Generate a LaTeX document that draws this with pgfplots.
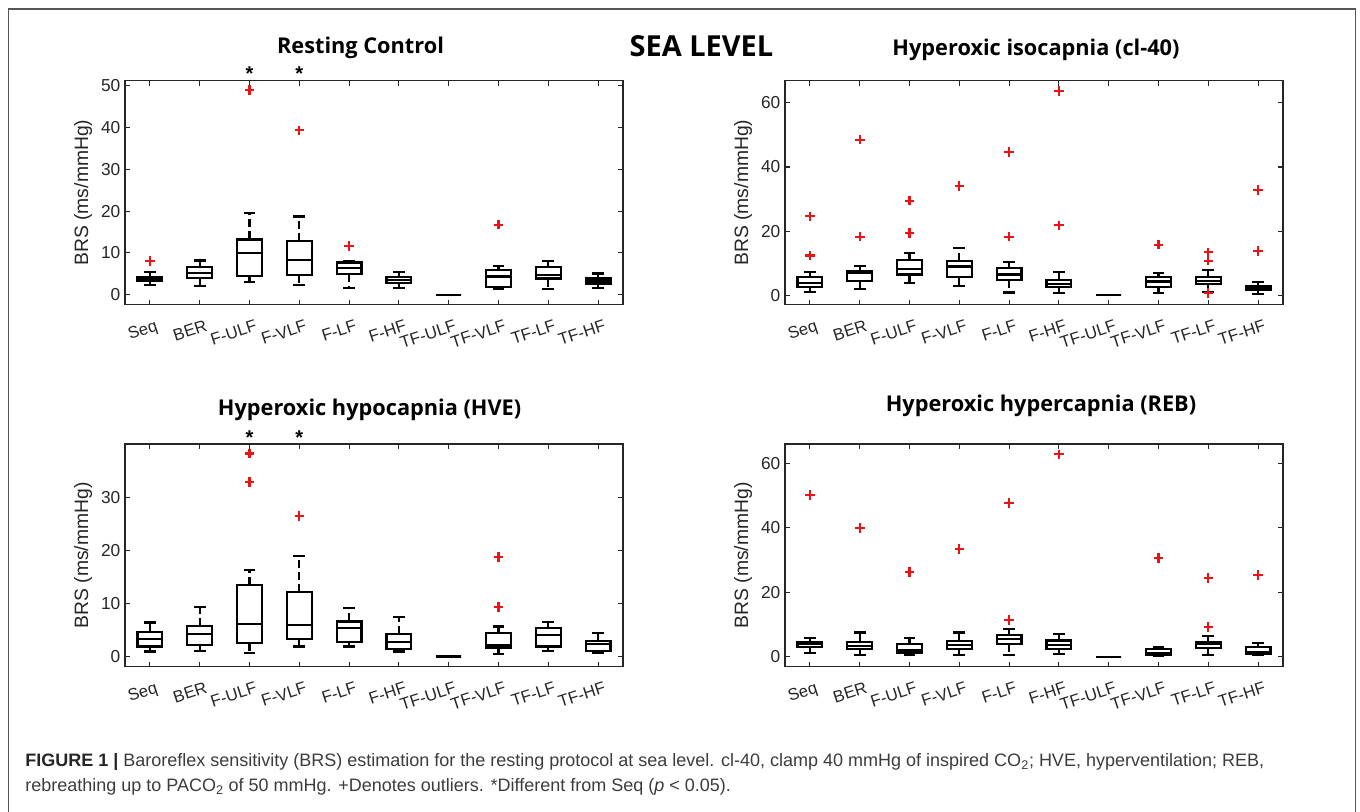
\documentclass[border=0pt]{standalone}
\usepackage{fontspec}
\setmainfont{Liberation Sans}
\newfontfamily\titlefont{Open Sans}
\usepackage{pgfplots}
\pgfplotsset{compat=1.18}
\usepgfplotslibrary{statistics}

\definecolor{axgray}{RGB}{38,38,38}
\definecolor{capgray}{RGB}{60,60,60}
\definecolor{framegray}{RGB}{85,85,85}
\definecolor{outred}{RGB}{235,20,20}

\pgfplotsset{
  brs/.style={
    scale only axis, width=373.5pt,
    xmin=0.5, xmax=10.5, xtick={1,...,10},
    xticklabels={Seq,BER,F-ULF,F-VLF,F-LF,F-HF,TF-ULF,TF-VLF,TF-LF,TF-HF},
    tick align=inside, major tick length=3.75pt,
    axis line style={line width=0.9pt, axgray},
    tick style={line width=0.8pt, axgray},
    /pgf/number format/assume math mode=true,
    ticklabel style={font=\fontsize{13}{15}\selectfont, text=axgray},
    xticklabel style={font=\fontsize{12.5}{15}\selectfont, xshift=3.75pt, yshift=-11pt, rotate=18, anchor=north east, inner sep=0pt},
    ylabel={BRS (ms/mmHg)},
    ylabel style={font=\fontsize{14.5}{17}\selectfont, text=axgray, at={(axis description cs:-0.0843,0.5)}, anchor=center},
    clip=false,
    boxplot/draw direction=y,
    boxplot/box extend=0.5,
    boxplot/whisker extend=0.235,
    boxplot/draw/lower whisker/.code={%
      \draw[dash pattern=on 6pt off 3pt] (boxplot box cs:\pgfplotsboxplotvalue{lower quartile},0.5) -- (boxplot box cs:\pgfplotsboxplotvalue{lower whisker},0.5);
      \draw[solid] (boxplot whisker cs:\pgfplotsboxplotvalue{lower whisker},0) -- (boxplot whisker cs:\pgfplotsboxplotvalue{lower whisker},1);
    },
    boxplot/draw/upper whisker/.code={%
      \draw[dash pattern=on 6pt off 3pt] (boxplot box cs:\pgfplotsboxplotvalue{upper quartile},0.5) -- (boxplot box cs:\pgfplotsboxplotvalue{upper whisker},0.5);
      \draw[solid] (boxplot whisker cs:\pgfplotsboxplotvalue{upper whisker},0) -- (boxplot whisker cs:\pgfplotsboxplotvalue{upper whisker},1);
    },
  },
  bxs/.style={black, line width=1.6pt, mark=+, mark size=3.6pt,
    mark options={outred, line width=1.6pt, solid}},
}

% box without outliers: pos, lw, lq, med, uq, uw
\newcommand{\bx}[6]{\addplot[bxs, boxplot prepared={draw position=#1, lower whisker=#2, lower quartile=#3, median=#4, upper quartile=#5, upper whisker=#6}] coordinates {};}
% box with outliers: last argument rows like 8.1\\ 12\\
\newcommand{\bxo}[7]{\addplot[bxs, boxplot prepared={draw position=#1, lower whisker=#2, lower quartile=#3, median=#4, upper quartile=#5, upper whisker=#6}] table[row sep=\\, y index=0] {data\\ #7};}

\begin{document}
\begin{tikzpicture}
\path[use as bounding box] (0,0) rectangle (1020pt,609pt);

% ---------- Resting Control ----------
\begin{axis}[brs, at={(93.75pt,380.5pt)}, anchor=south west, height=168pt,
  ymin=-2.4, ymax=51.2, ytick={0,10,20,30,40,50}]
\bxo{1}{2.2}{3.2}{3.7}{4.15}{5.35}{8.1\\}
\bx{2}{2.0}{4.0}{5.1}{6.7}{8.15}
\bxo{3}{3.1}{4.4}{9.9}{13.2}{19.5}{48.9\\}
\bxo{4}{2.3}{4.7}{8.3}{12.9}{18.7}{39.3\\}
\bxo{5}{1.5}{4.9}{6.3}{7.7}{8.0}{11.7\\}
\bx{6}{1.5}{2.7}{3.5}{4.15}{5.35}
\bx{7}{0}{0}{0}{0}{0}
\bxo{8}{1.25}{1.8}{4.35}{5.8}{6.9}{16.75\\}
\bx{9}{1.3}{3.85}{4.75}{6.65}{8.1}
\bx{10}{1.5}{2.5}{3.15}{3.85}{5.05}
\end{axis}

% ---------- Hyperoxic isocapnia ----------
\begin{axis}[brs, at={(588.75pt,380.5pt)}, anchor=south west, height=168pt,
  ymin=-2.9, ymax=66.9, ytick={0,20,40,60}]
\bxo{1}{1.15}{2.7}{3.75}{5.8}{7.3}{12.4\\ 24.6\\}
\bxo{2}{2.0}{4.6}{6.9}{7.5}{9.1}{18.3\\ 48.5\\}
\bxo{3}{3.75}{6.5}{8.2}{11.0}{13.3}{19.5\\ 29.5\\}
\bxo{4}{3.0}{5.6}{9.0}{10.7}{14.8}{34.0\\}
\bxo{5}{0.9}{4.8}{6.5}{8.4}{10.3}{18.3\\ 44.7\\}
\bxo{6}{0.8}{2.5}{3.5}{4.8}{7.2}{21.8\\ 63.6\\}
\bx{7}{0}{0}{0}{0}{0}
\bxo{8}{0.6}{2.5}{4.3}{5.6}{7.0}{15.8\\}
\bxo{9}{1.1}{3.5}{4.6}{5.6}{7.9}{0.8\\ 10.8\\ 13.4\\}
\bxo{10}{0.4}{1.7}{2.3}{2.9}{4.1}{13.75\\ 32.9\\}
\end{axis}

% ---------- Hyperoxic hypocapnia ----------
\begin{axis}[brs, at={(93.75pt,109pt)}, anchor=south west, height=167pt,
  ymin=-1.9, ymax=40, ytick={0,10,20,30}]
\bx{1}{0.95}{1.9}{3.3}{4.7}{6.4}
\bx{2}{1.1}{2.1}{4.3}{5.8}{9.4}
\bxo{3}{0.6}{2.6}{6.1}{13.5}{16.3}{32.8\\ 38.2\\}
\bxo{4}{1.9}{3.3}{6.0}{12.2}{19.0}{26.5\\}
\bx{5}{1.9}{2.7}{5.3}{6.6}{9.2}
\bx{6}{0.95}{1.5}{2.8}{4.3}{7.4}
\bx{7}{0}{0}{0}{0}{0}
\bxo{8}{0.5}{1.7}{2.1}{4.4}{5.65}{9.3\\ 18.7\\}
\bx{9}{1.1}{1.9}{4.1}{5.3}{6.5}
\bx{10}{0.75}{1.1}{2.3}{2.95}{4.5}
\end{axis}

% ---------- Hyperoxic hypercapnia ----------
\begin{axis}[brs, at={(588.75pt,109pt)}, anchor=south west, height=167pt,
  ymin=-3.1, ymax=65.9, ytick={0,20,40,60}]
\bxo{1}{1.0}{3.1}{3.8}{4.5}{5.9}{50.1\\}
\bxo{2}{0.5}{2.3}{3.4}{4.6}{7.5}{39.8\\}
\bxo{3}{0.5}{1.0}{1.9}{3.8}{5.9}{26.3\\}
\bxo{4}{0.5}{2.3}{3.6}{4.9}{7.5}{33.3\\}
\bxo{5}{0.5}{3.9}{5.5}{6.8}{8.5}{11.4\\ 47.7\\}
\bxo{6}{0.7}{2.3}{3.6}{5.0}{7.0}{62.7\\}
\bx{7}{0}{0}{0}{0}{0}
\bxo{8}{0.2}{0.5}{1.2}{2.3}{2.9}{30.5\\}
\bxo{9}{0.4}{2.6}{3.8}{4.6}{6.4}{9.2\\ 24.3\\}
\bxo{10}{0.5}{0.8}{1.55}{2.9}{4.3}{25.3\\}
\end{axis}

% ---------- annotations in pixel units ----------
\begin{scope}[x=0.75pt, y=-0.75pt, shift={(0pt,609pt)}]
  \draw[line width=1pt, framegray] (8.3,812) -- (8.3,9) -- (1355.7,9) -- (1355.7,812);
  \node[anchor=base, inner sep=0pt, font=\titlefont\bfseries\fontsize{21.7}{24}\selectfont] at (701.5,57) {SEA LEVEL};
  \node[anchor=base, inner sep=0pt, font=\titlefont\bfseries\fontsize{16.3}{19}\selectfont] at (360.5,54) {Resting Control};
  \node[anchor=base, inner sep=0pt, font=\titlefont\bfseries\fontsize{16.3}{19}\selectfont] at (1036,56) {Hyperoxic isocapnia (cl-40)};
  \node[anchor=base, inner sep=0pt, font=\titlefont\bfseries\fontsize{16.3}{19}\selectfont] at (369.6,416) {Hyperoxic hypocapnia (HVE)};
  \node[anchor=base, inner sep=0pt, font=\titlefont\bfseries\fontsize{16.3}{19}\selectfont] at (1041,411.7) {Hyperoxic hypercapnia (REB)};
  \foreach \sx in {249.5,299.3}{
    \node[anchor=base, inner sep=0pt, font=\bfseries\fontsize{15}{17}\selectfont] at (\sx,81) {*};
    \node[anchor=base, inner sep=0pt, font=\bfseries\fontsize{15}{17}\selectfont] at (\sx,445) {*};
  }
  \node[anchor=base west, inner sep=0pt, text=capgray, font=\fontsize{13.5}{16}\selectfont] at (25,767)
    {{\bfseries\color{black!85}FIGURE 1 |} Baroreflex sensitivity (BRS) estimation for the resting protocol at sea level. cl-40, clamp 40 mmHg of inspired CO\textsubscript{2}; HVE, hyperventilation; REB,};
  \node[anchor=base west, inner sep=0pt, text=capgray, font=\fontsize{13.5}{16}\selectfont] at (25,792)
    {rebreathing up to PACO\textsubscript{2} of 50 mmHg. +Denotes outliers. *Different from Seq (\textit{p} < 0.05).};
\end{scope}
\end{tikzpicture}
\end{document}
